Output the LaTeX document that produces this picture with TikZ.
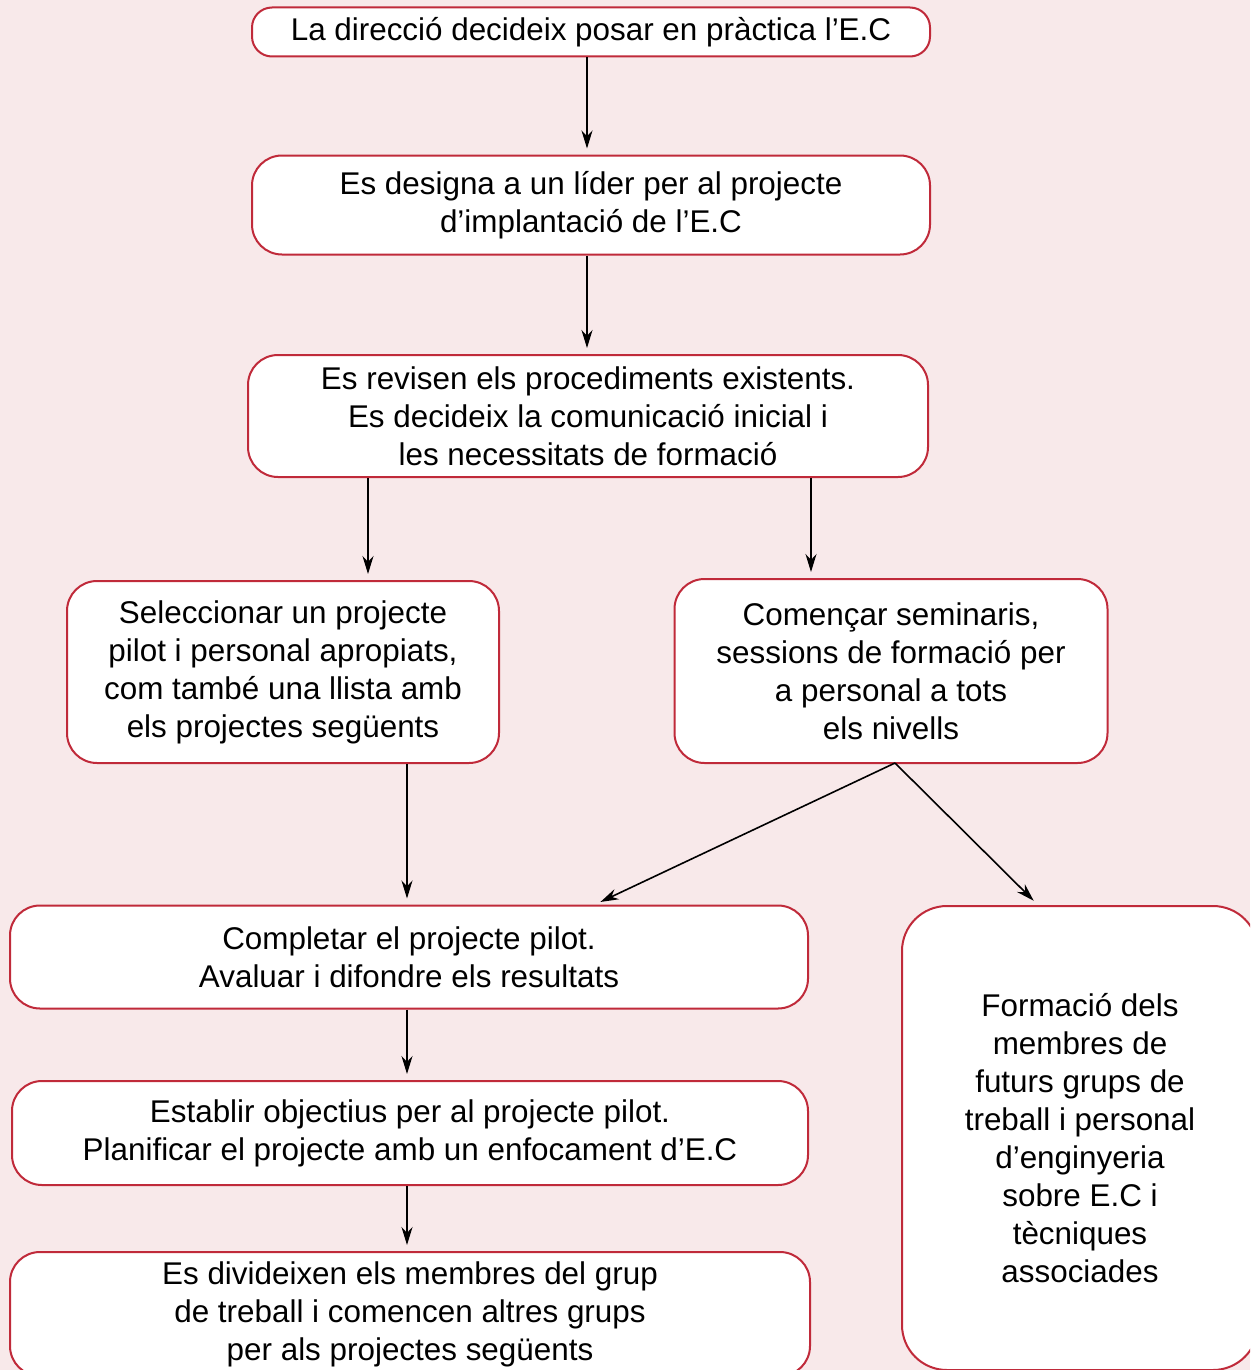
\documentclass[tikz,border=0pt]{standalone}
\usepackage{fontspec}
\setmainfont{Liberation Sans}
\usetikzlibrary{arrows.meta}
\definecolor{bgpink}{RGB}{248,233,234}
\definecolor{boxred}{RGB}{192,42,58}

\begin{document}
\begin{tikzpicture}[x=1pt,y=-1pt,
  stepbox/.style={draw=boxred, line width=2pt, fill=white, rounded corners=30pt,
    align=center, inner sep=0pt, font=\fontsize{31.4}{38}\selectfont},
  arr/.style={-{Stealth[length=18pt,width=11pt]}, line width=1.6pt, shorten >=6pt}]
  \fill[bgpink] (0,0) rectangle (1250,1370);
  \clip (0,0) rectangle (1250,1370);

  % boxes
  \node[stepbox, rounded corners=20pt, minimum width=678pt, minimum height=49pt] (b1) at (591,32)
    {La direcció decideix posar en pràctica l’E.C};
  \node[stepbox, minimum width=678pt, minimum height=99pt] (b2) at (591,205)
    {Es designa a un líder per al projecte\\d’implantació de l’E.C};
  \node[stepbox, minimum width=680pt, minimum height=122pt] (b3) at (588,416)
    {Es revisen els procediments existents.\\Es decideix la comunicació inicial i\\les necessitats de formació};
  \node[stepbox, minimum width=432pt, minimum height=182pt] (b4) at (283,672)
    {Seleccionar un projecte\\pilot i personal apropiats,\\com també una llista amb\\els projectes següents};
  \node[stepbox, minimum width=433pt, minimum height=184pt] (b5) at (891,671)
    {Començar seminaris,\\sessions de formació per\\a personal a tots\\els nivells};
  \node[stepbox, minimum width=798pt, minimum height=103pt] (b6) at (409,957)
    {Completar el projecte pilot.\\Avaluar i difondre els resultats};
  \node[stepbox, minimum width=796pt, minimum height=104pt] (b7) at (410,1133)
    {Establir objectius per al projecte pilot.\\Planificar el projecte amb un enfocament d’E.C};
  \node[stepbox, minimum width=800pt, minimum height=124pt] (b8) at (410,1314)
    {Es divideixen els membres del grup\\de treball i comencen altres grups\\per als projectes següents};
  \node[stepbox, rounded corners=45pt, minimum width=356pt, minimum height=464pt] (b9) at (1080,1138)
    {Formació dels\\membres de\\futurs grups de\\treball i personal\\d’enginyeria\\sobre E.C i\\tècniques\\associades};

  % connectors
  \coordinate (x1) at (587,0);
  \coordinate (x3l) at (368,0);
  \coordinate (x3r) at (811,0);
  \coordinate (x4) at (407,0);
  \coordinate (s5) at (895,763);
  \coordinate (t6) at (595,0);
  \coordinate (t9) at (1038,0);

  \draw[arr] (b1.south -| x1) -- (b2.north -| x1);
  \draw[arr] (b2.south -| x1) -- (b3.north -| x1);
  \draw[arr] (b3.south -| x3l) -- (b4.north -| x3l);
  \draw[arr] (b3.south -| x3r) -- (b5.north -| x3r);
  \draw[arr] (b4.south -| x4) -- (b6.north -| x4);
  \draw[arr] (s5) -- (b6.north -| t6);
  \draw[arr] (s5) -- (b9.north -| t9);
  \draw[arr] (b6.south -| x4) -- (b7.north -| x4);
  \draw[arr] (b7.south -| x4) -- (b8.north -| x4);
\end{tikzpicture}
\end{document}
